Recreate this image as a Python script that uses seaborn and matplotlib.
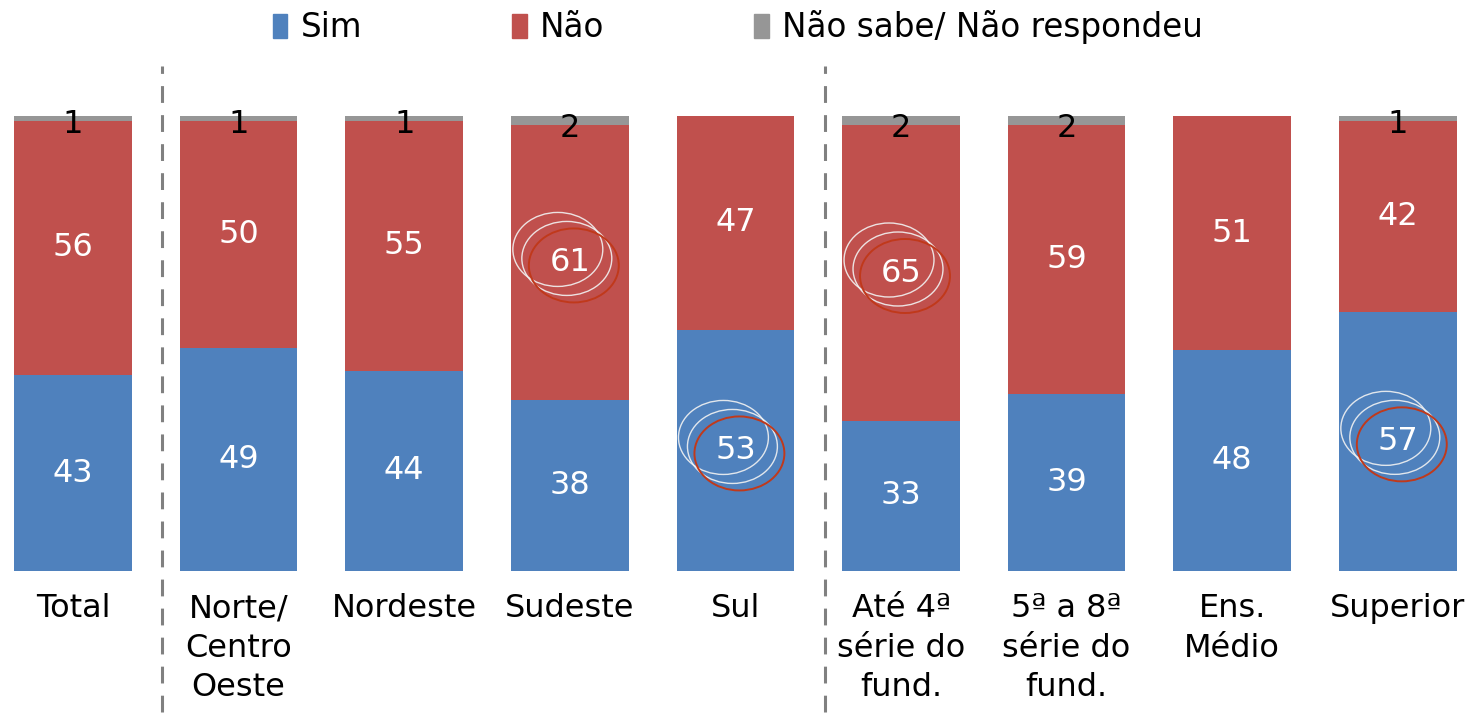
import numpy as np
import pandas as pd
import matplotlib
matplotlib.use('Agg')
import matplotlib.pyplot as plt
from matplotlib.patches import Patch, Ellipse
import seaborn as sns

# Data (percent)
categories = ['Total', 'Norte/\nCentro\nOeste', 'Nordeste', 'Sudeste', 'Sul',
              'Até 4ª\nsérie do\nfund.', '5ª a 8ª\nsérie do\nfund.', 'Ens.\nMédio', 'Superior']
sim = [43, 49, 44, 38, 53, 33, 39, 48, 57]
nao = [56, 50, 55, 61, 47, 65, 59, 51, 42]
ns_nr = [1, 1, 1, 2, 0, 2, 2, 0, 1]

# highlighted labels: (category index, series)
highlights = [(3, 'nao'), (4, 'sim'), (5, 'nao'), (8, 'sim')]

BLUE = '#4F81BD'
RED = '#C0504D'
GRAY = '#969696'

sns.set_theme(style='white')
plt.rcParams['font.family'] = ['DejaVu Sans']
plt.rcParams['text.color'] = 'black'
plt.rcParams['xtick.color'] = 'black'

df = pd.DataFrame({'categoria': categories, 'sim': sim, 'nao': nao, 'ns': ns_nr})
tot = df['sim'] + df['nao'] + df['ns']
# normalise to 100% stacked
df['p_sim'] = df['sim'] / tot * 100
df['p_nao'] = df['nao'] / tot * 100
df['p_ns'] = df['ns'] / tot * 100
df['c_nao'] = df['p_sim'] + df['p_nao']
df['c_all'] = df['c_nao'] + df['p_ns']

fig = plt.figure(figsize=(14.7, 7.18), dpi=100)
ax = fig.add_axes([0, 0.2047, 1, 0.6337])

bw = 0.71
sns.barplot(data=df, x='categoria', y='c_all', color=GRAY, width=bw, saturation=1, ax=ax)
sns.barplot(data=df, x='categoria', y='c_nao', color=RED, width=bw, saturation=1, ax=ax)
sns.barplot(data=df, x='categoria', y='p_sim', color=BLUE, width=bw, saturation=1, ax=ax)
for p in ax.patches:
    p.set_linewidth(0)

ax.set_xlim(-0.441, 8.436)
ax.set_ylim(0, 100)
ax.set_xlabel('')
ax.set_ylabel('')
ax.set_yticks([])
for s in ax.spines.values():
    s.set_visible(False)
ax.tick_params(axis='x', length=0, pad=16, labelsize=23, labelcolor='black')
for t in ax.get_xticklabels():
    t.set_linespacing(1.35)

fs = 23
for i, row in df.iterrows():
    ax.text(i, row['p_sim'] / 2, f"{row['sim']}", ha='center', va='center',
            color='white', fontsize=fs)
    ax.text(i, row['p_sim'] + row['p_nao'] / 2, f"{row['nao']}", ha='center',
            va='center', color='white', fontsize=fs)
    if row['ns'] > 0:
        ax.text(i, row['c_nao'] - 0.8, f"{row['ns']}", ha='center', va='center',
                color='black', fontsize=fs)

# hand-drawn style circles around highlighted values
ew = 90 / 165.7
eh = 74 / 455 * 100
for i, serie in highlights:
    if serie == 'sim':
        yc = df.loc[i, 'p_sim'] / 2
    else:
        yc = df.loc[i, 'p_sim'] + df.loc[i, 'p_nao'] / 2
    for dx, dy, col, lw in [(-12, -13, '#F2F2F2', 1.0), (-3, -4, '#F2F2F2', 1.0),
                            (4, 3, '#C0391B', 1.4)]:
        e = Ellipse((i + dx / 165.7, yc - dy / 4.55), ew, eh, fill=False,
                    edgecolor=col, linewidth=lw, alpha=0.9 if col != '#C0391B' else 1)
        ax.add_patch(e)

# group separators
for xs in [0.54, 4.54]:
    ax.axvline(xs, ymin=-0.31, ymax=1.11, color='#808080', linewidth=2.2,
               linestyle=(0, (5.5, 4)), clip_on=False)

handles = [Patch(color=BLUE, label='Sim'), Patch(color=RED, label='Não'),
           Patch(color=GRAY, label='Não sabe/ Não respondeu')]
fig.legend(handles=handles, loc='upper center', bbox_to_anchor=(0.502, 1.027), ncol=3,
           frameon=False, fontsize=23.5, handlelength=0.45, handleheight=0.75,
           handletextpad=0.4, columnspacing=4.6, labelcolor='black')

fig.savefig('out.png', dpi=100)
